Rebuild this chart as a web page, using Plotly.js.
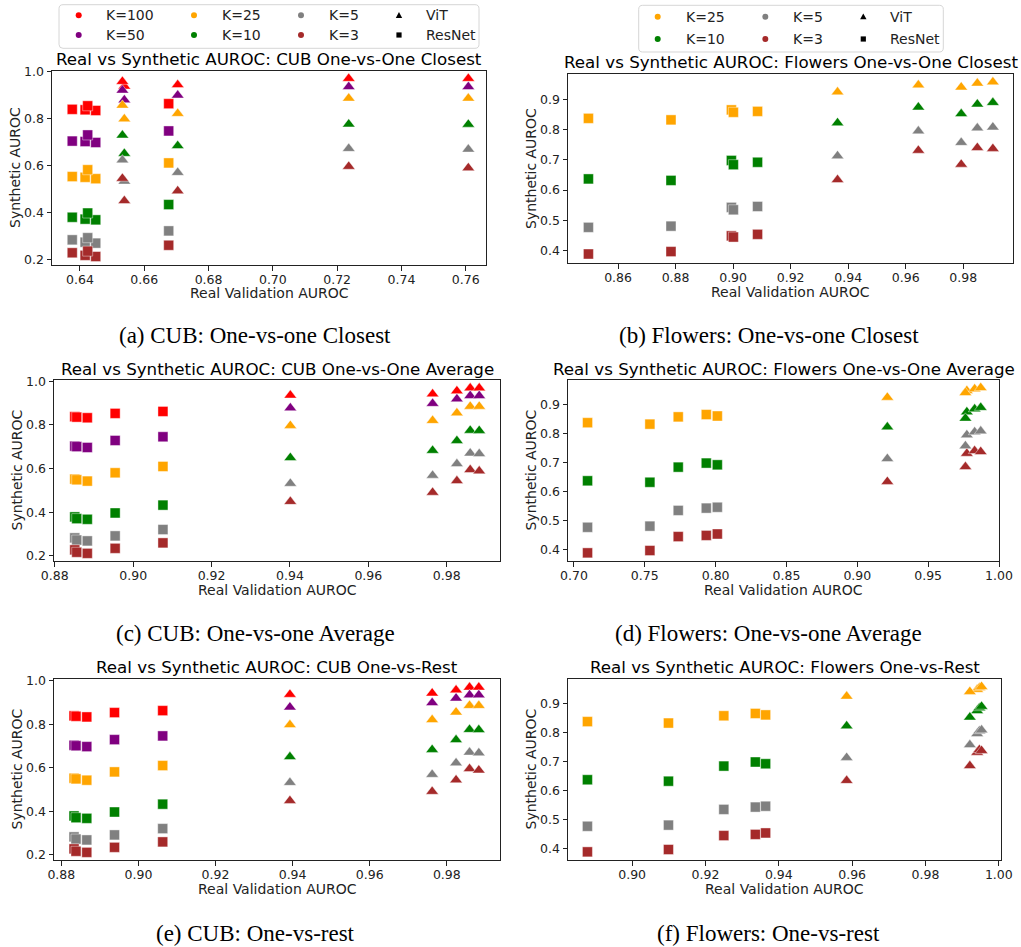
<!DOCTYPE html>
<html><head><meta charset="utf-8">
<script src="https://cdn.plot.ly/plotly-3.0.1.min.js"></script>
<style>html,body{margin:0;padding:0;background:#fff}#chart{width:1021px;height:947px}</style>
</head><body><div id="chart"></div>
<script>
// ---------------- DATA ----------------
// 10 models per dataset: 5 ResNet then 5 ViT
const modelArch = ['ResNet','ResNet','ResNet','ResNet','ResNet','ViT','ViT','ViT','ViT','ViT'];

const cubKLabels = ['K=100','K=50','K=25','K=10','K=5','K=3'];
const cubSynthK100 = [0.838,0.836,0.833,0.853,0.862,0.936,0.942,0.956,0.969,0.969];
const cubSynthK50  = [0.703,0.701,0.697,0.729,0.746,0.878,0.898,0.919,0.934,0.934];
const cubSynthK25  = [0.552,0.549,0.543,0.581,0.610,0.797,0.820,0.855,0.885,0.885];
const cubSynthK10  = [0.379,0.371,0.368,0.397,0.433,0.650,0.683,0.728,0.775,0.774];
const cubSynthK5   = [0.283,0.273,0.269,0.292,0.321,0.532,0.569,0.622,0.671,0.668];
const cubSynthK3   = [0.228,0.217,0.212,0.235,0.260,0.449,0.491,0.544,0.595,0.589];

const flowersKLabels = ['K=25','K=10','K=5','K=3'];
const flowersSynthK25 = [0.837,0.832,0.865,0.857,0.860,0.924,0.947,0.940,0.953,0.957];
const flowersSynthK10 = [0.637,0.632,0.698,0.684,0.692,0.822,0.874,0.852,0.884,0.889];
const flowersSynthK5  = [0.477,0.481,0.543,0.535,0.546,0.713,0.795,0.757,0.805,0.808];
const flowersSynthK3  = [0.389,0.397,0.449,0.445,0.454,0.634,0.731,0.685,0.740,0.737];

const cubRealClosest = [0.6376,0.6416,0.6449,0.6424,0.6676,0.6538,0.6704,0.6532,0.7236,0.7608];
const cubRealAverage = [0.8851,0.8856,0.8883,0.8954,0.9076,0.9401,0.9764,0.9826,0.9860,0.9883];
const cubRealRest    = [0.8833,0.8838,0.8866,0.8938,0.9063,0.9393,0.9762,0.9824,0.9859,0.9883];
const flowersRealClosest = [0.8497,0.8784,0.8994,0.9001,0.9085,0.9363,0.9644,0.9793,0.9849,0.9903];
const flowersRealAverage = [0.7096,0.7536,0.7934,0.7736,0.8012,0.9212,0.9773,0.9763,0.9828,0.9871];
const flowersRealRest    = [0.8878,0.9099,0.9336,0.9250,0.9364,0.9585,0.9941,0.9921,0.9947,0.9953];

const panelTitles = [
  'Real vs Synthetic AUROC: CUB One-vs-One Closest',
  'Real vs Synthetic AUROC: Flowers One-vs-One Closest',
  'Real vs Synthetic AUROC: CUB One-vs-One Average',
  'Real vs Synthetic AUROC: Flowers One-vs-One Average',
  'Real vs Synthetic AUROC: CUB One-vs-Rest',
  'Real vs Synthetic AUROC: Flowers One-vs-Rest'
];
const captions = [
  '(a) CUB: One-vs-one Closest',
  '(b) Flowers: One-vs-one Closest',
  '(c) CUB: One-vs-one Average',
  '(d) Flowers: One-vs-one Average',
  '(e) CUB: One-vs-rest',
  '(f) Flowers: One-vs-rest'
];
const xAxisTitle = 'Real Validation AUROC';
const yAxisTitle = 'Synthetic AUROC';

// ---------------- STYLE / LAYOUT ----------------
const W = 1021, H = 947;
const px = x => x / W;
const py = y => 1 - y / H;
const colorOf = {'K=100':'#ff0000','K=50':'#800080','K=25':'#ffa500','K=10':'#008000','K=5':'#808080','K=3':'#a52a2a'};
const FONT = 'DejaVu Sans, Verdana, sans-serif';

const cubSeries = [cubSynthK100, cubSynthK50, cubSynthK25, cubSynthK10, cubSynthK5, cubSynthK3];
const flowersSeries = [flowersSynthK25, flowersSynthK10, flowersSynthK5, flowersSynthK3];

const panels = [
  {l:52, r:486, t:71, b:265, xr:[0.6313,0.7663], yr:[0.176,1.001], x0:0.64, xdt:0.02, y0:0.2, ydt:0.2, yfmt:'.1f', xfmt:'.2f',
   ks:cubKLabels, ys:cubSeries, xs:cubRealClosest, titleY:59, xtY:293, ytX:15, capY:335},
  {l:568, r:1013, t:74, b:263, xr:[0.8426,0.9973], yr:[0.3593,0.9835], x0:0.86, xdt:0.02, y0:0.4, ydt:0.1, yfmt:'.1f', xfmt:'.2f',
   ks:flowersKLabels, ys:flowersSeries, xs:flowersRealClosest, titleY:62.5, xtY:292, ytX:530.5, capY:335},
  {l:54, r:500, t:380, b:561, xr:[0.8798,0.9936], yr:[0.177,1.006], x0:0.88, xdt:0.02, y0:0.2, ydt:0.2, yfmt:'.1f', xfmt:'.2f',
   ks:cubKLabels, ys:cubSeries, xs:cubRealAverage, titleY:369, xtY:590, ytX:16, capY:633},
  {l:568, r:999, t:380, b:561, xr:[0.6958,1.0], yr:[0.361,0.9839], x0:0.70, xdt:0.05, y0:0.4, ydt:0.1, yfmt:'.1f', xfmt:'.2f',
   ks:flowersKLabels, ys:flowersSeries, xs:flowersRealAverage, titleY:369, xtY:590, ytX:530, capY:633},
  {l:54, r:500, t:679, b:860, xr:[0.8781,0.9938], yr:[0.177,1.007], x0:0.88, xdt:0.02, y0:0.2, ydt:0.2, yfmt:'.1f', xfmt:'.2f',
   ks:cubKLabels, ys:cubSeries, xs:cubRealRest, titleY:667, xtY:889, ytX:16, capY:933},
  {l:568, r:1001, t:679, b:860, xr:[0.8825,1.0006], yr:[0.361,0.9835], x0:0.90, xdt:0.02, y0:0.4, ydt:0.1, yfmt:'.1f', xfmt:'.2f',
   ks:flowersKLabels, ys:flowersSeries, xs:flowersRealRest, titleY:667, xtY:889, ytX:530, capY:933}
];

const traces = [];
const layout = {
  width: W, height: H,
  margin: {l:0, r:0, t:0, b:0},
  paper_bgcolor: '#ffffff', plot_bgcolor: '#ffffff',
  showlegend: false,
  font: {family: FONT, color: '#000'},
  annotations: [], shapes: []
};

panels.forEach((p, i) => {
  const n = i + 1;
  const xa = n === 1 ? 'x' : 'x' + n;
  const ya = n === 1 ? 'y' : 'y' + n;
  p.ks.forEach((k, ki) => {
    ['ResNet','ViT'].forEach(arch => {
      const xs = [], ys = [];
      modelArch.forEach((a, mi) => { if (a === arch) { xs.push(p.xs[mi]); ys.push(p.ys[ki][mi]); } });
      traces.push({
        type: 'scatter', mode: 'markers', x: xs, y: ys, xaxis: xa, yaxis: ya,
        name: k + ' ' + arch, hoverinfo: 'x+y+name',
        marker: {
          color: colorOf[k],
          symbol: arch === 'ViT' ? 'triangle-up' : 'square',
          size: arch === 'ViT' ? 11 : 10,
          line: {color: 'rgba(255,255,255,0.7)', width: 0.6}
        }
      });
    });
  });
  const axCommon = {
    showgrid: false, zeroline: false, showline: true, mirror: true,
    linecolor: '#222', linewidth: 1, ticks: 'outside', ticklen: 4.5, tickwidth: 1, tickcolor: '#222',
    tickfont: {family: FONT, size: 12.5, color: '#222'}, fixedrange: true
  };
  layout[n === 1 ? 'xaxis' : 'xaxis' + n] = Object.assign({}, axCommon, {
    domain: [px(p.l), px(p.r)], range: p.xr, anchor: ya, ticklabelstandoff: -2,
    tick0: p.x0, dtick: p.xdt, tickformat: p.xfmt
  });
  layout[n === 1 ? 'yaxis' : 'yaxis' + n] = Object.assign({}, axCommon, {
    domain: [py(p.b), py(p.t)], range: p.yr, anchor: xa, ticklabelstandoff: 0,
    tick0: p.y0, dtick: p.ydt, tickformat: p.yfmt
  });
  const cx = (p.l + p.r) / 2, cy = (p.t + p.b) / 2;
  layout.annotations.push(
    {text: panelTitles[i], xref:'paper', yref:'paper', x: px(cx), y: py(p.titleY), xanchor:'center', yanchor:'middle',
     showarrow:false, font:{family:FONT, size:16.7, color:'#000'}},
    {text: xAxisTitle, xref:'paper', yref:'paper', x: px(cx), y: py(p.xtY), xanchor:'center', yanchor:'middle',
     showarrow:false, borderpad:0, font:{family:FONT, size:14, color:'#222'}},
    {text: yAxisTitle, xref:'paper', yref:'paper', x: px(p.ytX), y: py(cy), xanchor:'center', yanchor:'middle',
     textangle:-90, showarrow:false, font:{family:FONT, size:14, color:'#222'}},
    {text: captions[i], xref:'paper', yref:'paper', x: px(i % 2 === 0 ? 255 : 768.5), y: py(p.capY), xanchor:'center', yanchor:'middle',
     showarrow:false, font:{family:'Liberation Serif, Times New Roman, serif', size:23, color:'#000'}}
  );
});

// ---------------- LEGENDS (drawn as layout shapes + text) ----------------
function roundRectPath(x0, y0, x1, y1, r) {
  const X = v => px(v).toFixed(5), Y = v => py(v).toFixed(5);
  return 'M' + X(x0 + r) + ',' + Y(y0) + ' L' + X(x1 - r) + ',' + Y(y0) +
    ' Q' + X(x1) + ',' + Y(y0) + ' ' + X(x1) + ',' + Y(y0 + r) +
    ' L' + X(x1) + ',' + Y(y1 - r) +
    ' Q' + X(x1) + ',' + Y(y1) + ' ' + X(x1 - r) + ',' + Y(y1) +
    ' L' + X(x0 + r) + ',' + Y(y1) +
    ' Q' + X(x0) + ',' + Y(y1) + ' ' + X(x0) + ',' + Y(y1 - r) +
    ' L' + X(x0) + ',' + Y(y0 + r) +
    ' Q' + X(x0) + ',' + Y(y0) + ' ' + X(x0 + r) + ',' + Y(y0) + ' Z';
}
function addKey(kind, color, x, y) {
  const base = {xref:'paper', yref:'paper', xsizemode:'pixel', ysizemode:'pixel',
                xanchor: px(x), yanchor: py(y), fillcolor: color, line:{width:0}, layer:'above'};
  if (kind === 'circle') layout.shapes.push(Object.assign({type:'circle', x0:-3, x1:3, y0:-3, y1:3}, base));
  else if (kind === 'square') layout.shapes.push(Object.assign({type:'rect', x0:-2.6, x1:2.6, y0:-2.6, y1:2.6}, base));
  else layout.shapes.push(Object.assign({type:'path', path:'M -3.2,-2.6 L 3.2,-2.6 L 0,3.2 Z'}, base));
}
function addLegend(box, cols, rowsY, items) {
  layout.shapes.push({type:'path', xref:'paper', yref:'paper', path: roundRectPath(box[0], box[1], box[2], box[3], 4),
    line:{color:'#d6d6d6', width:1}, fillcolor:'rgba(255,255,255,0.8)', layer:'above'});
  items.forEach((it, idx) => {
    const c = Math.floor(idx / 2), r = idx % 2;
    addKey(it.kind, it.color, cols[c][0], rowsY[r]);
    layout.annotations.push({text: it.label, xref:'paper', yref:'paper', x: px(cols[c][1]), y: py(rowsY[r]),
      xanchor:'left', yanchor:'middle', showarrow:false, font:{family:FONT, size:14, color:'#222'}});
  });
}
const archLabels = ['ViT', 'ResNet'];
const cubLegendItems = cubKLabels.map(k => ({kind:'circle', color:colorOf[k], label:k}))
  .concat([{kind:'triangle', color:'#000', label:archLabels[0]}, {kind:'square', color:'#000', label:archLabels[1]}]);
const flowersLegendItems = flowersKLabels.map(k => ({kind:'circle', color:colorOf[k], label:k}))
  .concat([{kind:'triangle', color:'#000', label:archLabels[0]}, {kind:'square', color:'#000', label:archLabels[1]}]);

addLegend([59, 4.7, 479, 48.3], [[78.7,104],[194,220],[301,327],[399,424]], [15.3, 35], cubLegendItems);
addLegend([638.7, 5.3, 943.3, 52], [[657.7,684],[765.3,791],[863.3,888.3]], [16.7, 39], flowersLegendItems);

Plotly.newPlot('chart', traces, layout, {staticPlot: true, displayModeBar: false});
</script>
</body></html>
